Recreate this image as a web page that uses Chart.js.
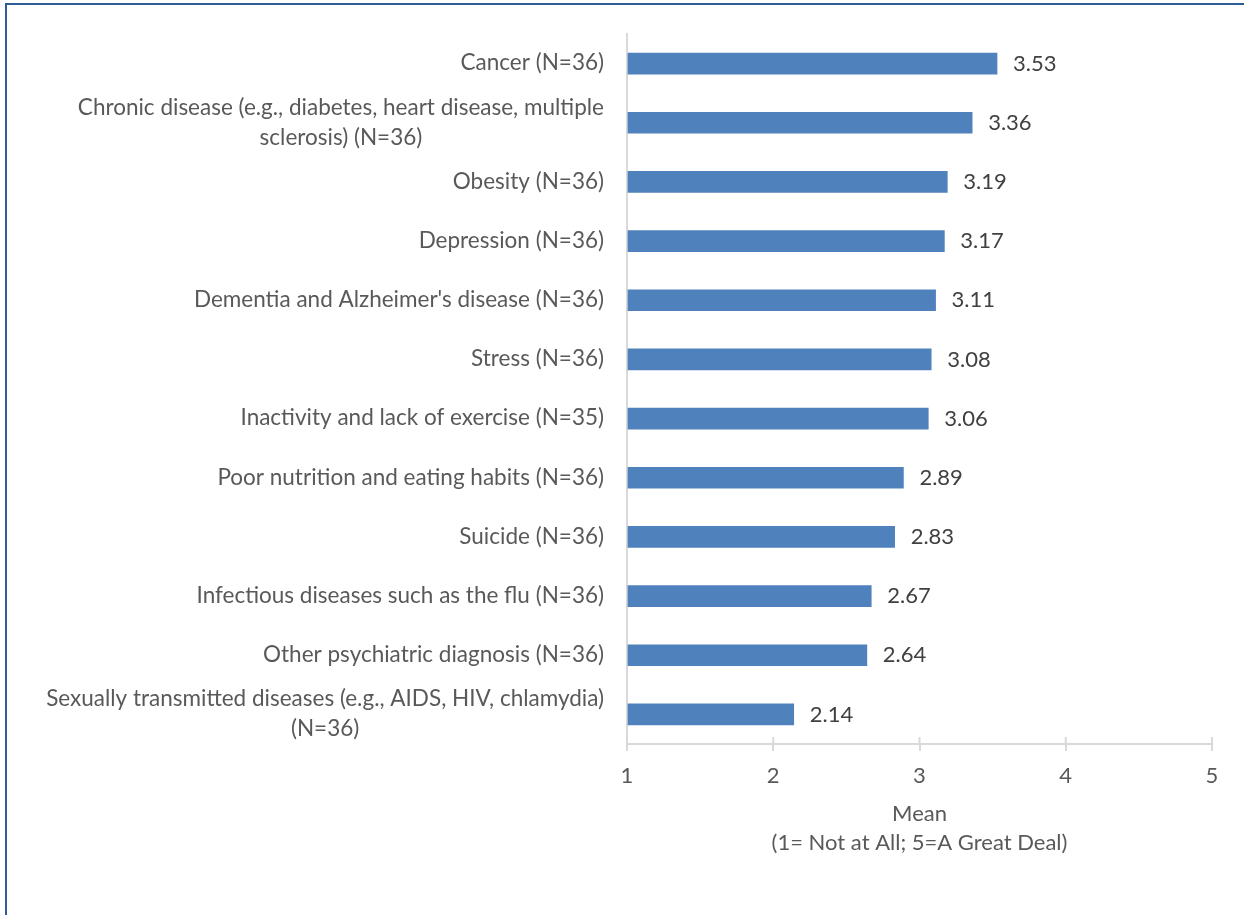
<!DOCTYPE html>
<html>
<head>
<meta charset="utf-8">
<script src="https://cdn.jsdelivr.net/npm/chart.js@4.4.1/dist/chart.umd.min.js"></script>
<style>
  html, body { margin: 0; padding: 0; background: #fff; }
  #frame { position: absolute; left: 5px; top: 3px; width: 1400px; height: 1000px;
           border-left: 2px solid #2E5C94; border-top: 2px solid #2E5C94; }
  #wrap { position: absolute; left: 0; top: 0; width: 1244px; height: 915px; }
</style>
</head>
<body>
<div id="frame"></div>
<div id="wrap"><canvas id="chart" width="1244" height="915"></canvas></div>
<script>
const categories = [
  "Cancer (N=36)",
  ["Chronic disease (e.g., diabetes, heart disease, multiple", "sclerosis) (N=36)"],
  "Obesity (N=36)",
  "Depression (N=36)",
  "Dementia and Alzheimer's disease (N=36)",
  "Stress (N=36)",
  "Inactivity and lack of exercise (N=35)",
  "Poor nutrition and eating habits (N=36)",
  "Suicide (N=36)",
  "Infectious diseases such as the flu (N=36)",
  "Other psychiatric diagnosis (N=36)",
  ["Sexually transmitted diseases (e.g., AIDS, HIV, chlamydia)", "(N=36)"]
];
const means = [3.53, 3.36, 3.19, 3.17, 3.11, 3.08, 3.06, 2.89, 2.83, 2.67, 2.64, 2.14];
const axisTitle = ["Mean", "(1= Not at All; 5=A Great Deal)"];

const FONT = "Lato";
const FONT_SIZE = 22;
const textColor = "#595959";
const lineColor = "#D9D9D9";

// category labels: right aligned block, each line centred within it
const categoryLabels = {
  id: "categoryLabels",
  afterDraw(chart) {
    const ctx = chart.ctx;
    const y = chart.scales.y;
    const right = chart.chartArea.left - 23;
    ctx.save();
    ctx.font = "22.5px " + FONT;
    ctx.fillStyle = textColor;
    ctx.textAlign = "center";
    ctx.textBaseline = "middle";
    categories.forEach((label, i) => {
      const lines = Array.isArray(label) ? label : [label];
      const w = Math.max(...lines.map(l => ctx.measureText(l).width));
      const cx = right - w / 2;
      const cy = y.getPixelForValue(i) - 0.5;
      const lh = 30;
      lines.forEach((l, j) => {
        ctx.fillText(l, cx, cy + (j - (lines.length - 1) / 2) * lh);
      });
    });
    ctx.restore();
  }
};

// value labels at bar ends
const valueLabels = {
  id: "valueLabels",
  afterDatasetsDraw(chart) {
    const ctx = chart.ctx;
    const meta = chart.getDatasetMeta(0);
    ctx.save();
    ctx.font = FONT_SIZE + "px " + FONT;
    ctx.fillStyle = "#404040";
    ctx.textAlign = "left";
    ctx.textBaseline = "middle";
    meta.data.forEach((bar, i) => {
      ctx.fillText(means[i].toFixed(2), bar.x + 16, bar.y);
    });
    ctx.restore();
  }
};

// tick marks cross the axis line (upper half)
const tickCross = {
  id: "tickCross",
  afterDraw(chart) {
    const ctx = chart.ctx;
    const x = chart.scales.x;
    const bottom = chart.chartArea.bottom;
    ctx.save();
    ctx.strokeStyle = lineColor;
    ctx.lineWidth = 2;
    x.ticks.forEach(t => {
      const px = x.getPixelForValue(t.value);
      ctx.beginPath();
      ctx.moveTo(px, bottom - 7);
      ctx.lineTo(px, bottom);
      ctx.stroke();
    });
    ctx.restore();
  }
};

new Chart("chart", {
  type: "bar",
  data: {
    labels: categories,
    datasets: [{
      data: means,
      base: 1,
      backgroundColor: "#4F81BD",
      borderWidth: 0,
      barThickness: 21
    }]
  },
  options: {
    indexAxis: "y",
    responsive: false,
    animation: false,
    layout: { padding: { top: 34, right: 32, bottom: 0, left: 0 } },
    plugins: {
      legend: { display: false },
      tooltip: { enabled: false }
    },
    scales: {
      x: {
        min: 1,
        max: 5,
        afterFit(scale) { scale.height = 171; },
        ticks: {
          stepSize: 1,
          padding: 12,
          color: textColor,
          font: { family: FONT, size: FONT_SIZE }
        },
        grid: { drawOnChartArea: false, color: lineColor, lineWidth: 2, tickLength: 7 },
        border: { color: lineColor, width: 2 },
        title: {
          display: true,
          text: axisTitle,
          color: textColor,
          font: { family: FONT, size: FONT_SIZE, lineHeight: 1.32 },
          padding: { top: 0, bottom: 58 }
        }
      },
      y: {
        afterFit(scale) { scale.width = 627; },
        ticks: { display: false },
        grid: { display: false },
        border: { color: lineColor, width: 2 }
      }
    }
  },
  plugins: [categoryLabels, valueLabels, tickCross]
});
</script>
</body>
</html>
